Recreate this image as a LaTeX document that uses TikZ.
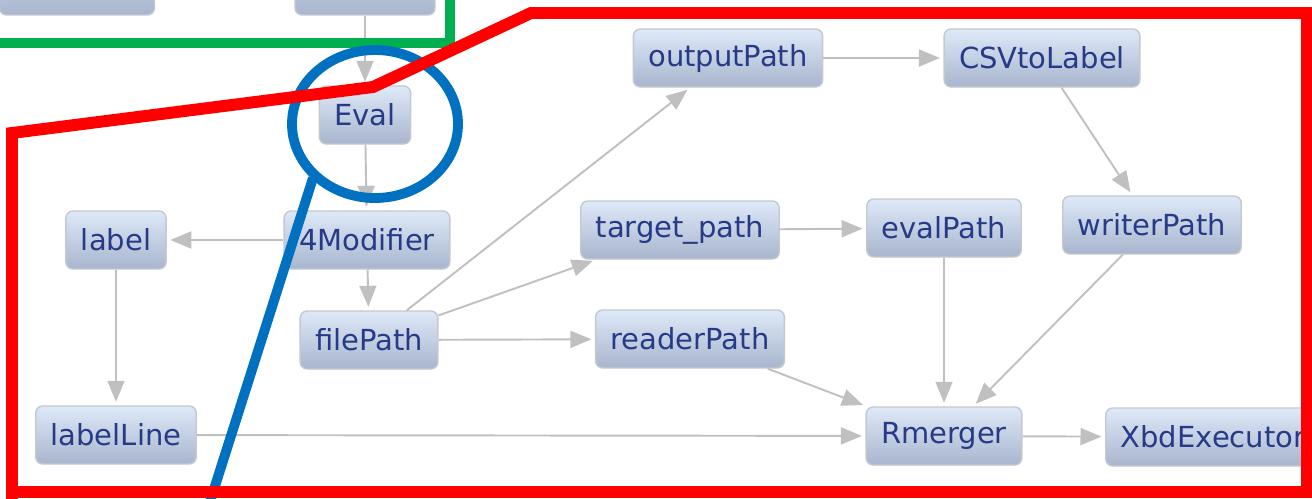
\documentclass[tikz,border=0pt]{standalone}
\usepackage{fontspec}
\setmainfont{DejaVu Sans}
\usetikzlibrary{arrows.meta}

\definecolor{boxtop}{RGB}{222,233,248}
\definecolor{boxbot}{RGB}{168,181,205}
\definecolor{boxline}{RGB}{196,200,208}
\definecolor{boxtext}{RGB}{38,58,135}
\definecolor{linkgray}{RGB}{192,192,192}
\definecolor{markred}{RGB}{255,0,0}
\definecolor{markgreen}{RGB}{0,176,80}
\definecolor{markblue}{RGB}{0,112,192}

\begin{document}
\begin{tikzpicture}[x=0.02cm, y=-0.02cm,
  box/.style={draw=boxline, line width=0.8pt, rounded corners=4pt,
    top color=boxtop, bottom color=boxbot, text=boxtext,
    font=\fontsize{16.5}{18}\selectfont, inner xsep=0.3cm,
    minimum height=1.16cm},
  link/.style={draw=linkgray, line width=1.1pt,
    -{Triangle[length=0.42cm, width=0.34cm]}, shorten >=2pt}]
\useasboundingbox (0,0) rectangle (1312,498);
\clip (0,0) rectangle (1312,498);

% upper block (cut off)
\node[box, minimum width=3.1cm, minimum height=1.6cm] (topA) at (77,-25) {};
\node[box, minimum width=2.8cm, minimum height=1.6cm] (topB) at (365,-25) {};

% nodes
\node[box] (eval)    at (365,115) {Eval};
\node[box] (modif)   at (367,240) {4Modifier};
\node[box] (label)   at (116,240) {label};
\node[box] (lline)   at (116,435) {labelLine};
\node[box] (fpath)   at (369,340) {filePath};
\node[box] (opath)   at (728,58)  {outputPath};
\node[box] (csv)     at (1042,58) {CSVtoLabel};
\node[box] (tpath)   at (680,230) {target\_path};
\node[box] (epath)   at (944,228) {evalPath};
\node[box] (wpath)   at (1152,225) {writerPath};
\node[box] (rpath)   at (690,339) {readerPath};
\node[box] (merge)   at (944,436) {Rmerger};
\node[box, anchor=west] (xbd) at (1105,437) {XbdExecutor};

% links
\draw[link] (topB) -- (eval);
\draw[link] (eval) -- (modif);
\draw[link] (modif) -- (label);
\draw[link] (label) -- (lline);
\draw[link] (modif) -- (fpath);
\draw[link] (fpath) -- (opath);
\draw[link] (fpath) -- (tpath);
\draw[link] (fpath) -- (rpath);
\draw[link] (opath) -- (csv);
\draw[link] (csv) -- (wpath);
\draw[link] (tpath) -- (epath);
\draw[link] (epath) -- (merge);
\draw[link] (wpath) -- (merge);
\draw[link] (rpath) -- (merge);
\draw[link] (lline) -- (merge);
\draw[link] (merge) -- (xbd);

% marks
\draw[markgreen, line width=5.6pt] (0,43) -- (450,43) -- (450,-10);
\draw[markblue, line width=5.6pt] (375,124) ellipse [x radius=83, y radius=74];
\draw[markblue, line width=5.6pt] (313,178) -- (209,505);
\draw[markred, line width=6.8pt, line join=miter]
  (12,505) -- (12,133) -- (373,87) -- (531,13) -- (1307,13) -- (1307,492) -- (12,492);
\end{tikzpicture}
\end{document}
